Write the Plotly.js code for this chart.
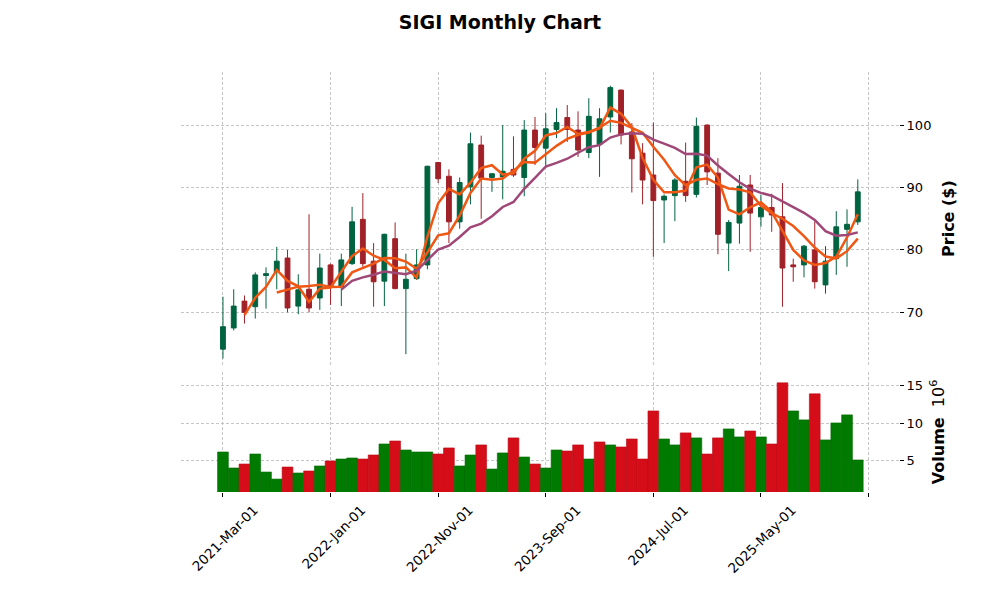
<!DOCTYPE html>
<html>
<head>
<meta charset="utf-8">
<script src="https://cdn.plot.ly/plotly-3.0.1.min.js"></script>
<style>html,body{margin:0;padding:0;background:#fff;}#chart{width:1000px;height:600px;}</style>
</head>
<body>
<div id="chart"></div>
<script>
// Monthly bars, 2021-03 .. 2026-02 (index positions 0..59)
var months = ['2021-03','2021-04','2021-05','2021-06','2021-07','2021-08','2021-09','2021-10','2021-11','2021-12',
              '2022-01','2022-02','2022-03','2022-04','2022-05','2022-06','2022-07','2022-08','2022-09','2022-10',
              '2022-11','2022-12','2023-01','2023-02','2023-03','2023-04','2023-05','2023-06','2023-07','2023-08',
              '2023-09','2023-10','2023-11','2023-12','2024-01','2024-02','2024-03','2024-04','2024-05','2024-06',
              '2024-07','2024-08','2024-09','2024-10','2024-11','2024-12','2025-01','2025-02','2025-03','2025-04',
              '2025-05','2025-06','2025-07','2025-08','2025-09','2025-10','2025-11','2025-12','2026-01','2026-02'];
var opens  = [64.1,67.5,71.8,70.9,75.9,76.5,78.7,71.0,73.7,72.3,
              77.6,74.1,77.8,84.9,78.2,75.0,81.8,73.8,75.4,77.6,
              94.0,91.8,84.5,90.1,96.8,91.6,91.7,92.9,91.6,99.2,
              96.3,99.3,101.2,99.2,95.6,96.9,101.3,105.6,98.9,95.5,
              92.0,88.0,88.7,91.0,88.9,100.0,92.3,81.1,84.3,90.4,
              85.3,86.8,85.3,77.6,77.6,80.0,74.4,78.6,83.3,84.5];
var highs  = [72.5,73.7,72.7,76.4,77.2,80.5,80.0,76.1,85.7,79.4,
              77.8,79.4,86.9,89.1,81.1,82.6,84.4,79.4,80.1,93.5,
              94.1,92.9,91.6,98.8,98.3,92.3,100.0,98.2,100.8,101.3,
              101.9,102.7,103.2,102.2,104.3,102.7,106.3,105.7,100.3,97.1,
              100.4,88.9,91.5,97.2,101.2,100.1,94.7,84.8,92.0,92.0,
              88.8,89.0,90.7,78.6,80.8,84.6,80.6,86.2,86.5,91.3];
var lows   = [62.6,67.1,68.2,69.0,70.6,73.7,70.0,69.7,70.0,70.4,
              71.2,71.0,77.6,77.3,70.9,71.0,73.7,63.3,75.2,76.9,
              90.7,81.1,83.4,87.3,85.0,89.3,88.1,91.7,88.6,93.6,
              93.1,97.9,97.3,94.9,94.7,91.7,98.8,96.9,89.2,87.3,
              78.9,81.1,84.6,87.7,88.4,90.4,79.3,76.6,81.0,79.7,
              83.7,82.9,70.9,74.9,75.6,73.8,73.0,76.0,77.3,84.0];
var closes = [67.7,71.0,70.0,76.0,76.2,78.2,70.7,73.6,70.7,77.1,
              74.1,78.4,84.5,77.8,74.9,82.5,73.8,75.3,77.6,93.4,
              91.4,84.5,90.8,97.0,91.5,92.2,92.6,92.0,99.2,96.4,
              99.4,100.4,99.3,96.0,101.4,101.0,106.0,98.4,94.6,91.2,
              87.9,88.6,91.2,88.7,99.8,92.5,82.5,84.4,90.2,85.9,
              86.8,85.6,77.1,77.3,80.6,74.9,78.2,83.7,84.1,89.3];
// volume in millions of shares
var volumes = [6.16,4.02,4.55,5.89,3.48,2.54,4.15,3.35,3.62,4.29,
               4.96,5.22,5.36,5.22,5.76,7.23,7.63,6.43,6.16,6.16,
               5.89,6.70,4.29,5.76,7.10,3.88,6.03,8.04,5.49,4.55,
               4.02,6.43,6.29,7.10,5.22,7.50,7.10,6.83,7.90,5.22,
               11.65,7.90,7.10,8.71,8.04,5.89,8.04,9.24,8.17,8.97,
               8.17,7.23,15.40,11.65,10.45,13.93,7.77,10.04,11.12,5.09];
var maPeriods = [3, 6, 12];
var maColors = ['#ef5714', '#ef5714', '#9f4878'];
var tickPositions = [0, 10, 20, 30, 40, 50];
var tickLabels = ['2021-Mar-01','2022-Jan-01','2022-Nov-01','2023-Sep-01','2024-Jul-01','2025-May-01'];
var unlabeledTicks = [60];

var idx = months.map(function(_, i){ return i; });

function movingAverage(values, n) {
  var out = [];
  for (var i = 0; i < values.length; i++) {
    if (i < n - 1) { out.push(null); continue; }
    var s = 0;
    for (var k = i - n + 1; k <= i; k++) s += values[k];
    out.push(s / n);
  }
  return out;
}

var volColors = closes.map(function(c, i){
  return (i === 0 || c >= closes[i-1]) ? '#007a00' : '#d50d18';
});
var volLine = closes.map(function(c, i){
  return (i === 0 || c >= closes[i-1]) ? '#006a00' : '#b80a14';
});

var traces = [];
traces.push({
  type: 'candlestick', x: idx, open: opens, high: highs, low: lows, close: closes,
  xaxis: 'x', yaxis: 'y', whiskerwidth: 0, hoverinfo: 'skip', showlegend: false,
  increasing: {line: {color: '#006340', width: 1}, fillcolor: '#006340'},
  decreasing: {line: {color: '#a02128', width: 1}, fillcolor: '#a02128'}
});
maPeriods.forEach(function(n, j){
  traces.push({
    type: 'scatter', mode: 'lines', x: idx, y: movingAverage(closes, n),
    xaxis: 'x', yaxis: 'y', line: {color: maColors[j], width: 2.5},
    hoverinfo: 'skip', showlegend: false
  });
});
traces.push({
  type: 'bar', x: idx, y: volumes, xaxis: 'x', yaxis: 'y2', width: 1,
  marker: {color: volColors, line: {color: volLine, width: 0.6}},
  hoverinfo: 'skip', showlegend: false
});

var gridCol = '#b8b8b8';
var layout = {
  width: 1000, height: 600,
  margin: {l: 181, r: 101, t: 72, b: 108},
  paper_bgcolor: '#ffffff', plot_bgcolor: '#ffffff',
  font: {family: 'DejaVu Sans, sans-serif', size: 13, color: '#000'},
  title: {text: '<b>SIGI Monthly Chart</b>', x: 0.5, xanchor: 'center', y: 0.963, yanchor: 'middle',
          font: {family: 'DejaVu Sans, sans-serif', size: 19, color: '#000'}},
  boxgap: 0.36,
  bargap: 0,
  xaxis: {
    range: [-3.9, 62.83], anchor: 'y2', domain: [0, 1],
    tickmode: 'array', tickvals: tickPositions, ticktext: tickLabels, tickangle: -45,
    ticklabelshift: 31,
    ticks: 'outside', ticklen: 4, tickcolor: '#000', tickwidth: 1,
    showgrid: true, gridcolor: gridCol, griddash: '3px,2px', gridwidth: 0.8,
    minor: {tickmode: 'array', tickvals: unlabeledTicks, ticks: 'outside', ticklen: 4, tickcolor: '#000',
            tickwidth: 1, showgrid: true, gridcolor: gridCol, griddash: '3px,2px', gridwidth: 0.8},
    showline: false, zeroline: false, rangeslider: {visible: false},
    tickfont: {size: 13.5}
  },
  yaxis: {
    domain: [0.302, 1], range: [61.54, 108.5], side: 'right', anchor: 'x',
    tickvals: [70, 80, 90, 100], ticks: 'outside', ticklen: 4, tickcolor: '#000',
    showgrid: true, gridcolor: gridCol, griddash: '3px,2px', gridwidth: 0.8,
    zeroline: false, showline: false, tickfont: {size: 13},
    title: {text: '<b>Price ($)</b>', font: {size: 16}, standoff: 12}
  },
  yaxis2: {
    domain: [0, 0.286], range: [0.81, 16.87], side: 'right', anchor: 'x',
    tickvals: [5, 10, 15], ticks: 'outside', ticklen: 4, tickcolor: '#000',
    showgrid: true, gridcolor: gridCol, griddash: '3px,2px', gridwidth: 0.8,
    zeroline: false, showline: false, tickfont: {size: 13},
    title: {text: '<b>Volume</b>  10<sup>6</sup>', font: {size: 16}, standoff: 10}
  }
};

Plotly.newPlot('chart', traces, layout, {displayModeBar: false, staticPlot: true});
</script>
</body>
</html>
